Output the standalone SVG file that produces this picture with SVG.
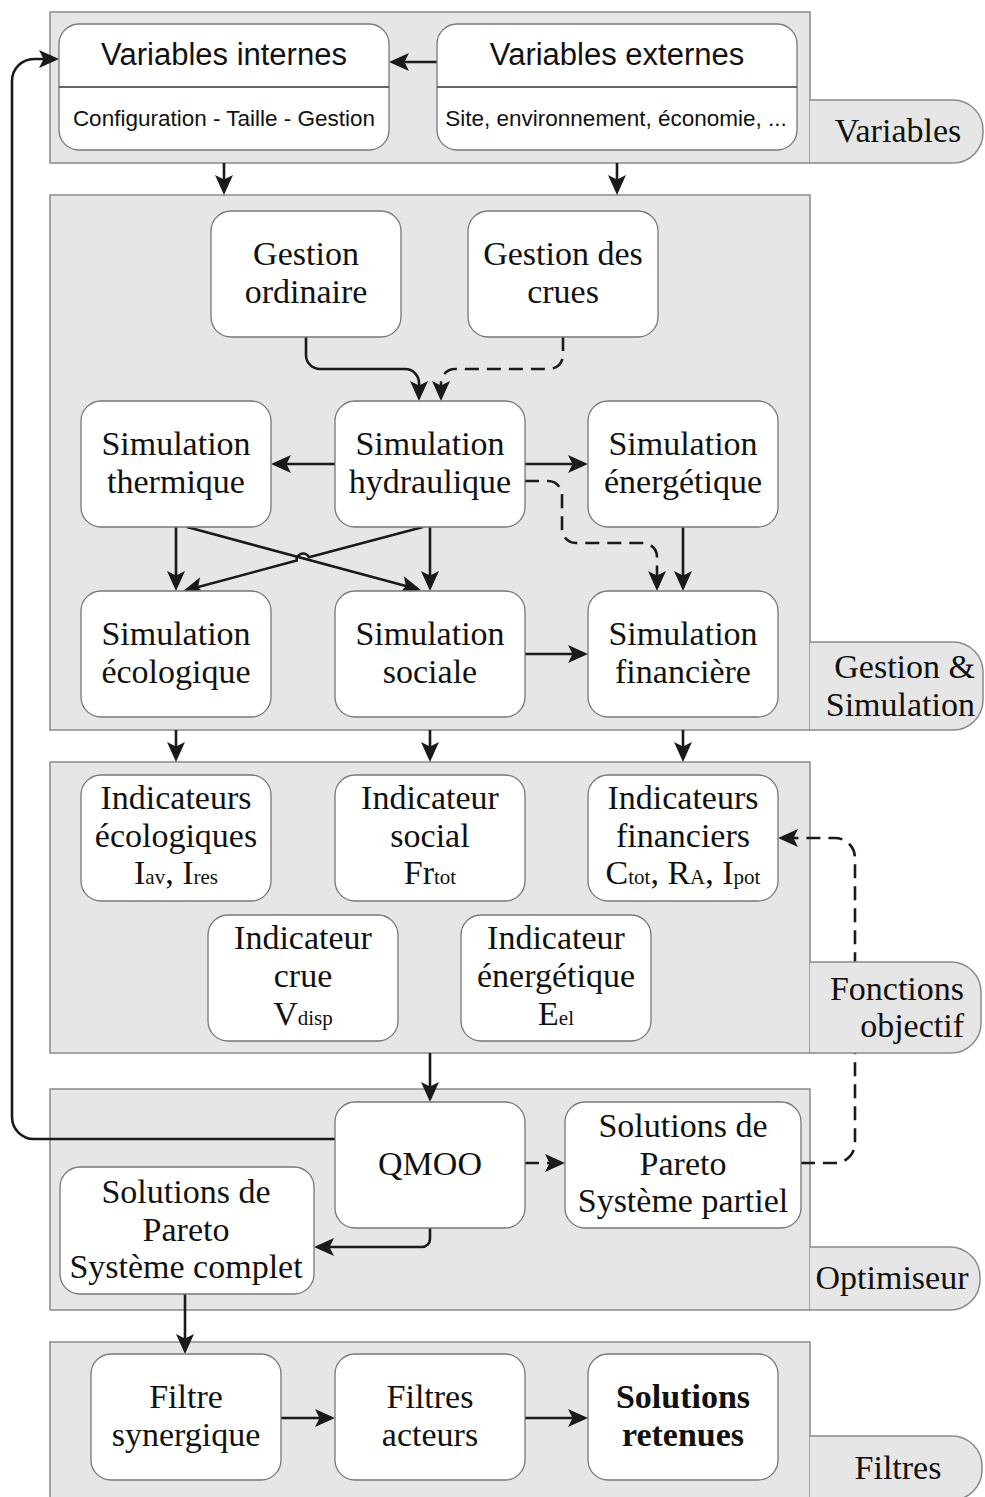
<svg xmlns="http://www.w3.org/2000/svg" width="985" height="1497" viewBox="0 0 985 1497">
<defs>
<style>
.panel{fill:#e6e6e6;stroke:#8a8a8a;stroke-width:1.5}
.tab{fill:#e6e6e6;stroke:#8a8a8a;stroke-width:1.5}
.box{fill:#fff;stroke:#777;stroke-width:1.3}
.sans{font-family:"Liberation Sans",Arial,sans-serif;fill:#111}
.serif{font-family:"Liberation Serif","Times New Roman",serif;fill:#111;font-size:34px}
.c{text-anchor:middle}
.e{text-anchor:end}
.sub{font-size:22.5px}
.ln{fill:none;stroke:#1a1a1a;stroke-width:2.6}
.ar{marker-end:url(#ah)}
.d{stroke-dasharray:14 8}
</style>
<marker id="ah" markerUnits="userSpaceOnUse" markerWidth="20" markerHeight="18" refX="16" refY="9" orient="auto">
<path d="M0,0 L20,9 L0,18 L4.5,9 z" fill="#1a1a1a"/>
</marker>
</defs>

<g id="panels">
<rect class="panel" x="50" y="12" width="760" height="151"/>
<rect class="panel" x="50" y="195" width="760" height="535"/>
<rect class="panel" x="50" y="762" width="760" height="291"/>
<rect class="panel" x="50" y="1089" width="760" height="221"/>
<rect class="panel" x="50" y="1342" width="760" height="160"/>
</g>

<g id="connectors">
<path class="ln ar" d="M437,62 H393"/>
<path class="ln ar" d="M335,1139 H34 A22,22 0 0 1 12,1117 V81 A22,22 0 0 1 34,59 H55"/>
<path class="ln ar" d="M224,163 V191"/>
<path class="ln ar" d="M617,163 V191"/>
<path class="ln ar" d="M306,337 V355 A14,14 0 0 0 320,369 H405 A14,14 0 0 1 419,383 V397"/>
<path class="ln ar d" d="M563,337 V355 A14,14 0 0 1 549,369 H455 A14,14 0 0 0 441,383 V397"/>
<path class="ln ar" d="M335,464 H275"/>
<path class="ln ar" d="M525,464 H584"/>
<path class="ln ar d" d="M525,481 H548 A14,14 0 0 1 562,495 V529 A14,14 0 0 0 576,543 H643 A14,14 0 0 1 657,557 V587"/>
<path class="ln ar" d="M683,527 V587"/>
<path class="ln ar" d="M176,527 V587"/>
<path class="ln ar" d="M430,527 V587"/>
<path class="ln ar" d="M187,527 L417,589"/>
<path class="ln ar" d="M423,527 L309,557.3 A6.5,6.5 0 0 0 296.6,560.6 L187,590"/>
<path class="ln ar" d="M525,654 H584"/>
<path class="ln ar" d="M176,730 V758"/>
<path class="ln ar" d="M430,730 V758"/>
<path class="ln ar" d="M683,730 V758"/>
<path class="ln ar" d="M430,1053 V1098"/>
<path class="ln ar d" d="M525,1163 H561"/>
<path class="ln ar d" d="M801,1163 H835 A20,20 0 0 0 855,1143 V858 A20,20 0 0 0 835,838 H782"/>
<path class="ln ar" d="M430,1228 V1239 A8,8 0 0 1 422,1247 H318"/>
<path class="ln ar" d="M185,1294 V1350"/>
<path class="ln ar" d="M281,1418 H331"/>
<path class="ln ar" d="M525,1418 H584"/>
</g>

<g id="tabs">
<g id="tab-variables"><path class="tab" d="M810,100 H953 A30,30 0 0 1 983,130 V133 A30,30 0 0 1 953,163 H810"/>
<text class="serif c" x="898" y="142">Variables</text></g>
<g id="tab-gestion"><path class="tab" d="M810,642 H953 A30,30 0 0 1 983,672 V700 A30,30 0 0 1 953,730 H810"/>
<text class="serif e" x="975" y="678">Gestion &amp;</text>
<text class="serif e" x="975" y="716">Simulation</text></g>
<g id="tab-fonctions"><path class="tab" d="M810,962 H951 A30,30 0 0 1 981,992 V1023 A30,30 0 0 1 951,1053 H810"/>
<text class="serif e" x="964" y="1000">Fonctions</text>
<text class="serif e" x="964" y="1037">objectif</text></g>
<g id="tab-optimiseur"><path class="tab" d="M810,1247 H950 A30,30 0 0 1 980,1277 V1280 A30,30 0 0 1 950,1310 H810"/>
<text class="serif c" x="892" y="1289">Optimiseur</text></g>
<g id="tab-filtres"><path class="tab" d="M810,1436 H952 A30,30 0 0 1 982,1466 V1470 A30,30 0 0 1 952,1500 H810"/>
<text class="serif c" x="898" y="1479">Filtres</text></g>
</g>

<g id="n-var-int">
<rect class="box" x="59" y="24" width="330" height="126" rx="20"/>
<line x1="59" y1="87" x2="389" y2="87" stroke="#333" stroke-width="1.5"/>
<text class="sans c" x="224" y="65" font-size="31">Variables internes</text>
<text class="sans c sub" x="224" y="126">Configuration - Taille - Gestion</text>
</g>
<g id="n-var-ext">
<rect class="box" x="437" y="24" width="360" height="126" rx="20"/>
<line x1="437" y1="87" x2="797" y2="87" stroke="#333" stroke-width="1.5"/>
<text class="sans c" x="617" y="65" font-size="31">Variables externes</text>
<text class="sans c sub" x="616" y="126">Site, environnement, économie, ...</text>
</g>

<g id="n-gest-ord">
<rect class="box" x="211" y="211" width="190" height="126" rx="20"/>
<text class="serif c" x="306" y="265">Gestion</text>
<text class="serif c" x="306" y="303">ordinaire</text>
</g>
<g id="n-gest-crues">
<rect class="box" x="468" y="211" width="190" height="126" rx="20"/>
<text class="serif c" x="563" y="265">Gestion des</text>
<text class="serif c" x="563" y="303">crues</text>
</g>

<g id="n-sim-therm">
<rect class="box" x="81" y="401" width="190" height="126" rx="20"/>
<text class="serif c" x="176" y="455">Simulation</text>
<text class="serif c" x="176" y="493">thermique</text>
</g>
<g id="n-sim-hydr">
<rect class="box" x="335" y="401" width="190" height="126" rx="20"/>
<text class="serif c" x="430" y="455">Simulation</text>
<text class="serif c" x="430" y="493">hydraulique</text>
</g>
<g id="n-sim-ener">
<rect class="box" x="588" y="401" width="190" height="126" rx="20"/>
<text class="serif c" x="683" y="455">Simulation</text>
<text class="serif c" x="683" y="493">énergétique</text>
</g>
<g id="n-sim-eco">
<rect class="box" x="81" y="591" width="190" height="126" rx="20"/>
<text class="serif c" x="176" y="645">Simulation</text>
<text class="serif c" x="176" y="683">écologique</text>
</g>
<g id="n-sim-soc">
<rect class="box" x="335" y="591" width="190" height="126" rx="20"/>
<text class="serif c" x="430" y="645">Simulation</text>
<text class="serif c" x="430" y="683">sociale</text>
</g>
<g id="n-sim-fin">
<rect class="box" x="588" y="591" width="190" height="126" rx="20"/>
<text class="serif c" x="683" y="645">Simulation</text>
<text class="serif c" x="683" y="683">financière</text>
</g>

<g id="n-ind-eco">
<rect class="box" x="81" y="775" width="190" height="126" rx="20"/>
<text class="serif c" x="176" y="809">Indicateurs</text>
<text class="serif c" x="176" y="847">écologiques</text>
<text class="serif c" x="176" y="884">I<tspan font-size="21">av</tspan>, I<tspan font-size="21">res</tspan></text>
</g>
<g id="n-ind-soc">
<rect class="box" x="335" y="775" width="190" height="126" rx="20"/>
<text class="serif c" x="430" y="809">Indicateur</text>
<text class="serif c" x="430" y="847">social</text>
<text class="serif c" x="430" y="884">Fr<tspan font-size="21">tot</tspan></text>
</g>
<g id="n-ind-fin">
<rect class="box" x="588" y="775" width="190" height="126" rx="20"/>
<text class="serif c" x="683" y="809">Indicateurs</text>
<text class="serif c" x="683" y="847">financiers</text>
<text class="serif c" x="683" y="884">C<tspan font-size="21">tot</tspan>, R<tspan font-size="21">A</tspan>, I<tspan font-size="21">pot</tspan></text>
</g>
<g id="n-ind-crue">
<rect class="box" x="208" y="915" width="190" height="126" rx="20"/>
<text class="serif c" x="303" y="949">Indicateur</text>
<text class="serif c" x="303" y="987">crue</text>
<text class="serif c" x="303" y="1025">V<tspan font-size="21">disp</tspan></text>
</g>
<g id="n-ind-ener">
<rect class="box" x="461" y="915" width="190" height="126" rx="20"/>
<text class="serif c" x="556" y="949">Indicateur</text>
<text class="serif c" x="556" y="987">énergétique</text>
<text class="serif c" x="556" y="1025">E<tspan font-size="21">el</tspan></text>
</g>

<g id="n-qmoo">
<rect class="box" x="335" y="1102" width="190" height="126" rx="20"/>
<text class="serif c" x="430" y="1175">QMOO</text>
</g>
<g id="n-pareto-partiel">
<rect class="box" x="565" y="1102" width="236" height="126" rx="20"/>
<text class="serif c" x="683" y="1137">Solutions de</text>
<text class="serif c" x="683" y="1175">Pareto</text>
<text class="serif c" x="683" y="1212">Système partiel</text>
</g>
<g id="n-pareto-complet">
<rect class="box" x="60" y="1167" width="254" height="127" rx="20"/>
<text class="serif c" x="186" y="1203">Solutions de</text>
<text class="serif c" x="186" y="1241">Pareto</text>
<text class="serif c" x="186" y="1278">Système complet</text>
</g>

<g id="n-filtre-syn">
<rect class="box" x="91" y="1354" width="190" height="126" rx="20"/>
<text class="serif c" x="186" y="1408">Filtre</text>
<text class="serif c" x="186" y="1446">synergique</text>
</g>
<g id="n-filtres-act">
<rect class="box" x="335" y="1354" width="190" height="126" rx="20"/>
<text class="serif c" x="430" y="1408">Filtres</text>
<text class="serif c" x="430" y="1446">acteurs</text>
</g>
<g id="n-solutions">
<rect class="box" x="588" y="1354" width="190" height="126" rx="20"/>
<text class="serif c" x="683" y="1408" font-weight="bold">Solutions</text>
<text class="serif c" x="683" y="1446" font-weight="bold">retenues</text>
</g>
</svg>
